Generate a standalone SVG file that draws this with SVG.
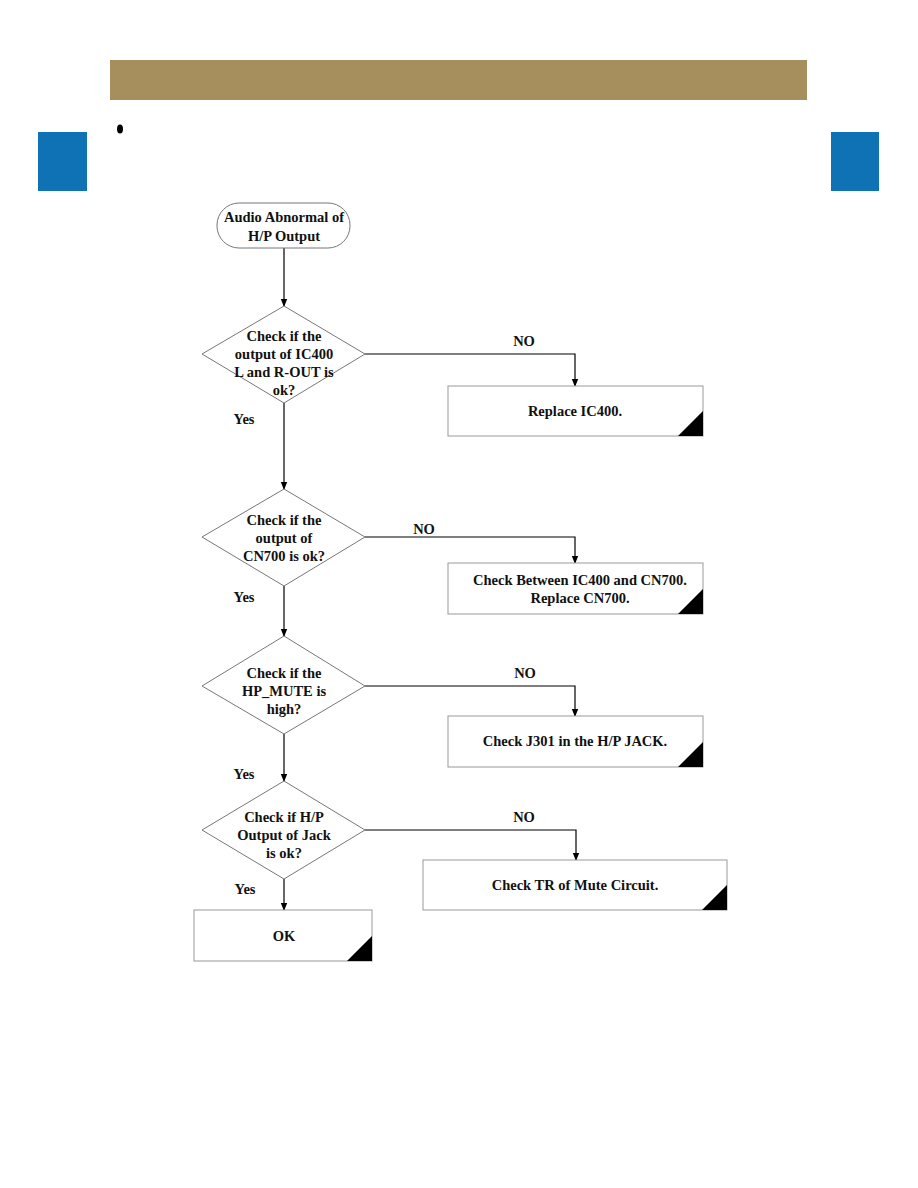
<svg xmlns="http://www.w3.org/2000/svg" width="918" height="1188" viewBox="0 0 918 1188">
<style>
.t{font-family:"Liberation Serif","Times New Roman",serif;font-weight:bold;font-size:14.5px;fill:#111;text-anchor:middle}
.shape{fill:#fff;stroke:#777;stroke-width:1}
.box{fill:#fff;stroke:#999;stroke-width:1}
.conn{fill:none;stroke:#000;stroke-width:1.2;marker-end:url(#arr)}
.tri{fill:#000}
</style>
<defs>
<marker id="arr" markerWidth="8" markerHeight="8" refX="7" refY="4" orient="auto" markerUnits="userSpaceOnUse">
<path d="M0,0.8 L8,4 L0,7.2 Z" fill="#000"/>
</marker>
</defs>
<rect x="0" y="0" width="918" height="1188" fill="#fff"/>
<rect x="110" y="60" width="697" height="40" fill="#A68F5C"/>
<ellipse cx="120" cy="129" rx="3" ry="4.5" fill="#000"/>
<rect x="38" y="132" width="49" height="59" fill="#0E72B5"/>
<rect x="831" y="132" width="48" height="59" fill="#0E72B5"/>

<g id="connectors">
<path class="conn" d="M284,248 V306"/>
<path class="conn" d="M365,354 H575 V386"/>
<path class="conn" d="M284,403 V489"/>
<path class="conn" d="M365,537 H575 V563"/>
<path class="conn" d="M284,586 V636"/>
<path class="conn" d="M365,686 H575 V716"/>
<path class="conn" d="M284,734 V781"/>
<path class="conn" d="M365,830 H576 V860"/>
<path class="conn" d="M284,879 V910"/>
<text class="t" x="524" y="346">NO</text>
<text class="t" x="244" y="424">Yes</text>
<text class="t" x="424" y="534">NO</text>
<text class="t" x="244" y="602">Yes</text>
<text class="t" x="525" y="678">NO</text>
<text class="t" x="244" y="779">Yes</text>
<text class="t" x="524" y="822">NO</text>
<text class="t" x="245" y="894">Yes</text>
</g>

<g id="start">
<rect class="shape" x="217" y="203" width="133" height="45" rx="22" ry="22"/>
<text class="t" x="284" y="222">Audio Abnormal of</text>
<text class="t" x="284" y="241">H/P Output</text>
</g>

<g id="d1">
<polygon class="shape" points="284,306 365,354 284,403 202,354"/>
<text class="t" x="284" y="341">Check if the</text>
<text class="t" x="284" y="359">output of IC400</text>
<text class="t" x="284" y="377">L and R-OUT is</text>
<text class="t" x="284" y="395">ok?</text>
</g>

<g id="b1">
<rect class="box" x="448" y="386" width="255" height="50"/>
<polygon class="tri" points="678,436 703,411 703,436"/>
<text class="t" x="575" y="416">Replace IC400.</text>
</g>

<g id="d2">
<polygon class="shape" points="284,489 365,537 284,586 202,537"/>
<text class="t" x="284" y="525">Check if the</text>
<text class="t" x="284" y="543">output of</text>
<text class="t" x="284" y="561">CN700 is ok?</text>
</g>

<g id="b2">
<rect class="box" x="448" y="563" width="255" height="51"/>
<polygon class="tri" points="678,614 703,589 703,614"/>
<text class="t" x="580" y="585">Check Between IC400 and CN700.</text>
<text class="t" x="580" y="603">Replace CN700.</text>
</g>

<g id="d3">
<polygon class="shape" points="284,636 365,686 284,734 202,686"/>
<text class="t" x="284" y="678">Check if the</text>
<text class="t" x="284" y="696">HP_MUTE is</text>
<text class="t" x="284" y="714">high?</text>
</g>

<g id="b3">
<rect class="box" x="448" y="716" width="255" height="51"/>
<polygon class="tri" points="678,767 703,742 703,767"/>
<text class="t" x="575" y="746">Check J301 in the H/P JACK.</text>
</g>

<g id="d4">
<polygon class="shape" points="284,781 365,830 284,879 202,830"/>
<text class="t" x="284" y="822">Check if H/P</text>
<text class="t" x="284" y="840">Output of Jack</text>
<text class="t" x="284" y="858">is ok?</text>
</g>

<g id="b4">
<rect class="box" x="423" y="860" width="304" height="50"/>
<polygon class="tri" points="702,910 727,885 727,910"/>
<text class="t" x="575" y="890">Check TR of Mute Circuit.</text>
</g>

<g id="ok">
<rect class="box" x="194" y="910" width="178" height="51"/>
<polygon class="tri" points="347,961 372,936 372,961"/>
<text class="t" x="284" y="941">OK</text>
</g>
</svg>
